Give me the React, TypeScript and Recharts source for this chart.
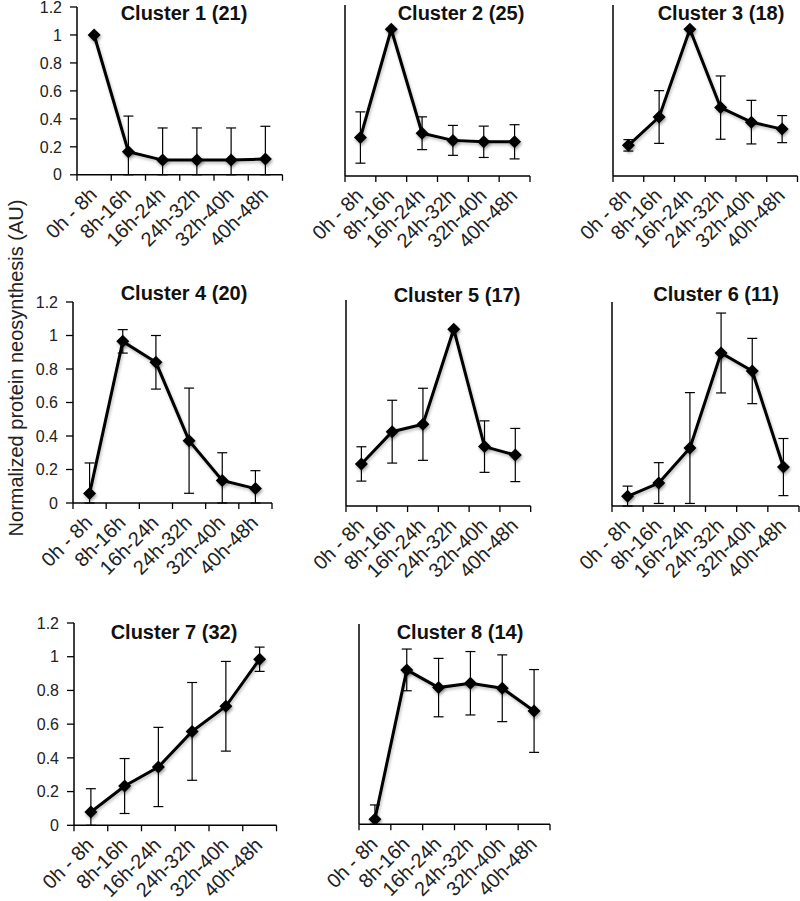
import React from "react";
import { LineChart, Line, XAxis, YAxis, ErrorBar } from "recharts";

const CATEGORIES = ["0h - 8h", "8h-16h", "16h-24h", "24h-32h", "32h-40h", "40h-48h"];
const Y_TICKS = [0, 0.2, 0.4, 0.6, 0.8, 1, 1.2];

const TITLES = [
  "Cluster 1 (21)",
  "Cluster 2 (25)",
  "Cluster 3 (18)",
  "Cluster 4 (20)",
  "Cluster 5 (17)",
  "Cluster 6 (11)",
  "Cluster 7 (32)",
  "Cluster 8 (14)",
];

// mean per time window, and its error (one value, drawn both ways, cut at 0)
const C1_MEAN = [1.0, 0.165, 0.105, 0.105, 0.105, 0.113];
const C1_ERR = [0, 0.255, 0.23, 0.23, 0.23, 0.234];
const C2_MEAN = [0.27, 1.03, 0.3, 0.25, 0.24, 0.24];
const C2_ERR = [0.18, 0, 0.115, 0.105, 0.11, 0.12];
const C3_MEAN = [0.215, 0.414, 1.03, 0.48, 0.378, 0.329];
const C3_ERR = [0.04, 0.185, 0, 0.222, 0.153, 0.095];
const C4_MEAN = [0.056, 0.965, 0.84, 0.372, 0.135, 0.086];
const C4_ERR = [0.183, 0.07, 0.16, 0.314, 0.165, 0.107];
const C5_MEAN = [0.245, 0.433, 0.476, 1.03, 0.346, 0.297];
const C5_ERR = [0.1, 0.183, 0.21, 0, 0.15, 0.155];
const C6_MEAN = [0.057, 0.135, 0.341, 0.9, 0.794, 0.229];
const C6_ERR = [0.06, 0.12, 0.326, 0.235, 0.192, 0.168];
const C7_MEAN = [0.079, 0.233, 0.346, 0.557, 0.706, 0.985];
const C7_ERR = [0.138, 0.163, 0.235, 0.29, 0.266, 0.072];
const C8_MEAN = [0.03, 0.925, 0.819, 0.845, 0.815, 0.679];
const C8_ERR = [0.086, 0.125, 0.175, 0.19, 0.2, 0.248];

const MEANS = [C1_MEAN, C2_MEAN, C3_MEAN, C4_MEAN, C5_MEAN, C6_MEAN, C7_MEAN, C8_MEAN];
const ERRS = [C1_ERR, C2_ERR, C3_ERR, C4_ERR, C5_ERR, C6_ERR, C7_ERR, C8_ERR];

// plot areas on the page: x, y (top = 1.2), w, h, whether y labels show, title centre/baseline
const PANELS = [
  { x: 76.5, y: 6.7, w: 205.5, h: 167.8, labels: true, tx: 184, ty: 20 },
  { x: 345, y: 5, w: 185, h: 171, labels: false, tx: 461, ty: 20 },
  { x: 613, y: 5, w: 184.5, h: 171, labels: false, tx: 721, ty: 20 },
  { x: 73.3, y: 302.3, w: 199, h: 201, labels: true, tx: 184, ty: 300 },
  { x: 346, y: 300, w: 184.7, h: 206, labels: false, tx: 457, ty: 302 },
  { x: 612.3, y: 301.7, w: 187, h: 204, labels: false, tx: 716, ty: 301 },
  { x: 73.5, y: 622.7, w: 202.5, h: 202.3, labels: true, tx: 174, ty: 639 },
  { x: 359, y: 624, w: 191, h: 200.3, labels: false, tx: 460, ty: 639 },
];

const FONT = "'Liberation Sans', Arial, Helvetica, sans-serif";
const TOP = 30;
const LEFT = 70;

function buildRows(mean: number[], err: number[]) {
  return CATEGORIES.map((cat, i) => ({
    cat,
    v: mean[i],
    err: [Math.min(err[i], mean[i]), err[i]],
  }));
}

function Diamond(props: any) {
  const { cx, cy, index } = props;
  if (cx == null || cy == null) return <g key={index} />;
  const r = 6.5;
  return (
    <path
      key={index}
      d={`M${cx},${cy - r} L${cx + r},${cy} L${cx},${cy + r} L${cx - r},${cy} Z`}
      fill="#000"
      style={{ filter: "drop-shadow(1px 2px 1.5px rgba(0,0,0,0.35))" }}
    />
  );
}

function makeTick(half: number, axisY: number) {
  return (props: any) => {
    const { x, payload, index } = props;
    const ax = x + 4;
    const ay = axisY + 21;
    return (
      <g>
        <line x1={x - half} y1={axisY} x2={x - half} y2={axisY + 6} stroke="#000" strokeWidth={1.3} />
        {index === CATEGORIES.length - 1 && (
          <line x1={x + half} y1={axisY} x2={x + half} y2={axisY + 6} stroke="#000" strokeWidth={1.3} />
        )}
        <text
          x={ax}
          y={ay}
          textAnchor="end"
          transform={`rotate(-45 ${ax} ${ay})`}
          fontSize={20}
          fontFamily={FONT}
          fill="#222"
        >
          {payload.value}
        </text>
      </g>
    );
  };
}

function Panel({ idx }: { idx: number }) {
  const p = PANELS[idx];
  const rows = buildRows(MEANS[idx], ERRS[idx]);
  const half = p.w / 12;
  const width = p.w + LEFT + 10;
  const height = p.h + TOP + 80;
  return (
    <div style={{ position: "absolute", left: p.x - LEFT, top: p.y - TOP }}>
      <LineChart width={width} height={height} data={rows} margin={{ top: TOP, right: 10, bottom: 0, left: 0 }}>
        <XAxis
          dataKey="cat"
          interval={0}
          height={80}
          padding={{ left: half, right: half }}
          axisLine={{ stroke: "#000", strokeWidth: 1.5 }}
          tickLine={false}
          tick={makeTick(half, TOP + p.h)}
        />
        <YAxis
          width={LEFT}
          domain={[0, 1.2]}
          ticks={Y_TICKS}
          allowDataOverflow
          axisLine={{ stroke: "#000", strokeWidth: 1.5 }}
          tickLine={p.labels ? { stroke: "#000", strokeWidth: 1.3 } : false}
          tickSize={7}
          tickMargin={8}
          tick={p.labels ? { fontSize: 16, fontFamily: FONT, fill: "#222" } : false}
        />
        <Line
          type="linear"
          dataKey="v"
          stroke="#000"
          strokeWidth={3}
          dot={Diamond}
          activeDot={false}
          isAnimationActive={false}
        >
          <ErrorBar dataKey="err" direction="y" width={5} stroke="#000" strokeWidth={1.2} isAnimationActive={false} />
        </Line>
      </LineChart>
    </div>
  );
}

export default function App() {
  return (
    <div style={{ position: "absolute", left: 0, top: 0, width: 800, height: 901, background: "#fff", overflow: "hidden" }}>
      <style>{`.recharts-line-curve{filter:drop-shadow(1px 2px 1.5px rgba(0,0,0,0.25));}`}</style>
      {PANELS.map((_, i) => (
        <Panel key={i} idx={i} />
      ))}
      <svg width={800} height={901} style={{ position: "absolute", left: 0, top: 0, pointerEvents: "none" }}>
        {PANELS.map((p, i) => (
          <text key={i} x={p.tx} y={p.ty} textAnchor="middle" fontSize={20} fontWeight="bold" fontFamily={FONT} fill="#111">
            {TITLES[i]}
          </text>
        ))}
        <text
          x={23}
          y={368}
          textAnchor="middle"
          transform="rotate(-90 23 368)"
          fontSize={20}
          fontFamily={FONT}
          fill="#222"
        >
          Normalized protein neosynthesis (AU)
        </text>
      </svg>
    </div>
  );
}
